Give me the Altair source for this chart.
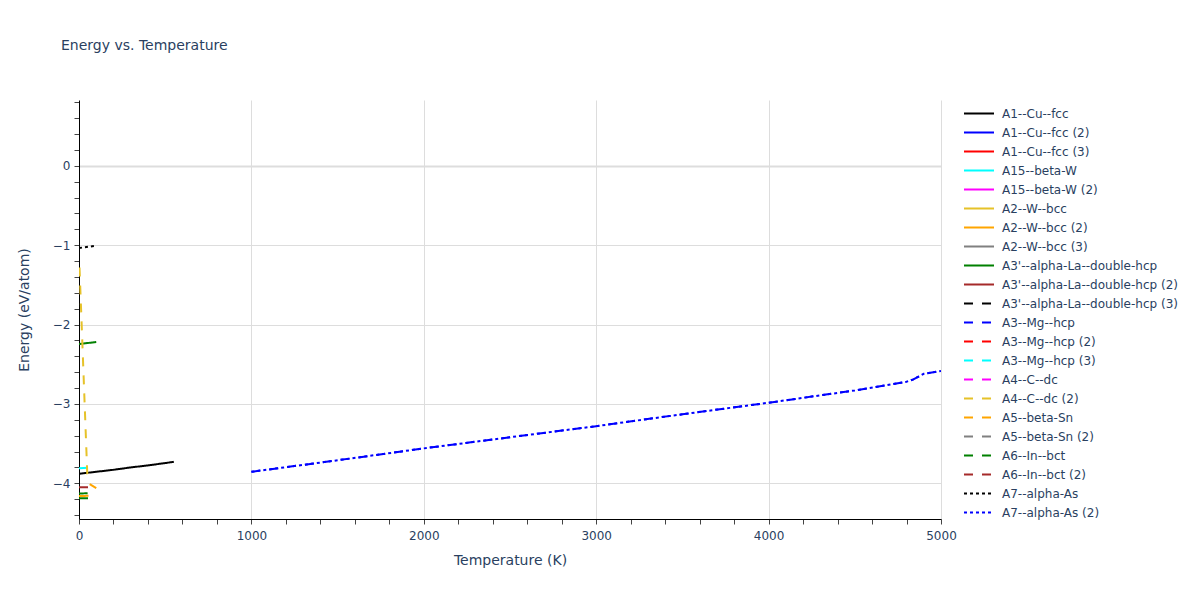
import altair as alt
import pandas as pd

# ---- legend / series definitions ----
series_names = [
    "A1--Cu--fcc", "A1--Cu--fcc (2)", "A1--Cu--fcc (3)",
    "A15--beta-W", "A15--beta-W (2)",
    "A2--W--bcc", "A2--W--bcc (2)", "A2--W--bcc (3)",
    "A3'--alpha-La--double-hcp", "A3'--alpha-La--double-hcp (2)", "A3'--alpha-La--double-hcp (3)",
    "A3--Mg--hcp", "A3--Mg--hcp (2)", "A3--Mg--hcp (3)",
    "A4--C--dc", "A4--C--dc (2)",
    "A5--beta-Sn", "A5--beta-Sn (2)",
    "A6--In--bct", "A6--In--bct (2)",
    "A7--alpha-As", "A7--alpha-As (2)",
]
series_colors = [
    "#000000", "#0000ff", "#ff0000", "#00ffff", "#ff00ff",
    "#e6c229", "#ffa500", "#808080", "#008000", "#a52a2a",
    "#000000", "#0000ff", "#ff0000", "#00ffff", "#ff00ff",
    "#e6c229", "#ffa500", "#808080", "#008000", "#a52a2a",
    "#000000", "#0000ff",
]
SOLID, DASH, DOT = [1, 0], [9, 9], [3, 3]
series_dashes = [SOLID] * 10 + [DASH] * 10 + [DOT] * 2

# ---- values ----
cu_fcc_T = [0, 100, 200, 300, 400, 500, 550]
cu_fcc_E = [-3.88, -3.855, -3.83, -3.80, -3.775, -3.745, -3.73]

w_bcc2_T = [0, 55]
w_bcc2_E = [-4.16, -4.158]

la_a_T = [0, 100]
la_a_E = [-2.245, -2.22]
la_b_T = [0, 50]
la_b_E = [-4.13, -4.125]

mg_hcp_T = [1000, 1500, 2000, 2500, 3000, 3500, 4000, 4500, 4800, 4840, 4900, 5000]
mg_hcp_E = [-3.855, -3.71, -3.56, -3.42, -3.28, -3.13, -2.985, -2.83, -2.72, -2.69, -2.62, -2.585]

mg_hcp3_T = [0, 90]
mg_hcp3_E = [-3.81, -3.80]

c_dc2_T = [3, 48, 55]
c_dc2_E = [-1.28, -3.88, -3.96]

sn_T = [62, 100]
sn_E = [-4.01, -4.06]

in_bct_T = [0, 90]
in_bct_E = [-4.19, -4.185]

in_bct2_T = [0, 60, 90]
in_bct2_E = [-4.05, -4.05, -4.03]

as_T = [0, 90]
as_E = [-1.035, -1.01]

as2_T = mg_hcp_T
as2_E = mg_hcp_E

parts = [
    ("A1--Cu--fcc", "a", cu_fcc_T, cu_fcc_E),
    ("A2--W--bcc (2)", "a", w_bcc2_T, w_bcc2_E),
    ("A3'--alpha-La--double-hcp", "a", la_a_T, la_a_E),
    ("A3'--alpha-La--double-hcp", "b", la_b_T, la_b_E),
    ("A3--Mg--hcp", "a", mg_hcp_T, mg_hcp_E),
    ("A3--Mg--hcp (3)", "a", mg_hcp3_T, mg_hcp3_E),
    ("A4--C--dc (2)", "a", c_dc2_T, c_dc2_E),
    ("A5--beta-Sn", "a", sn_T, sn_E),
    ("A6--In--bct", "a", in_bct_T, in_bct_E),
    ("A6--In--bct (2)", "a", in_bct2_T, in_bct2_E),
    ("A7--alpha-As", "a", as_T, as_E),
    ("A7--alpha-As (2)", "a", as2_T, as2_E),
]
rows = []
for name, p, ts, es in parts:
    for t, e in zip(ts, es):
        rows.append({"series": name, "part": name + "|" + p, "T": t, "E": e})
df = pd.DataFrame(rows)

x_ticks = list(range(0, 5001, 200))
y_ticks = [round(-4.4 + 0.2 * i, 1) for i in range(27)]

FONT = "DejaVu Sans"
TXT = "#2a3f5f"

legend = alt.Legend(
    title=None, orient="none", legendX=884, legendY=5,
    symbolType="stroke", symbolSize=900, symbolStrokeWidth=2,
    labelFont=FONT, labelFontSize=12, labelColor=TXT, labelOffset=7,
    clipHeight=17, rowPadding=2, padding=0, labelLimit=300,
)

chart = alt.Chart(df).mark_line(strokeWidth=2, clip=True).encode(
    x=alt.X("T:Q", title="Temperature (K)",
            scale=alt.Scale(domain=[0, 5000], nice=False, zero=False),
            axis=alt.Axis(
                values=x_ticks,
                labelExpr="datum.value % 1000 === 0 ? format(datum.value, 'd') : ''",
                gridColor={"condition": {"test": "datum.value % 1000 === 0 && datum.value > 0",
                                         "value": "#dddddd"},
                           "value": "rgba(0,0,0,0)"},
                labelFlush=False, labelOverlap=False,
                tickSize=5, tickColor="#444444", domainColor="#000000",
                labelPadding=6, titlePadding=12,
            )),
    y=alt.Y("E:Q", title="Energy (eV/atom)",
            scale=alt.Scale(domain=[-4.45, 0.83], nice=False, zero=False),
            axis=alt.Axis(
                values=y_ticks,
                labelExpr="abs(datum.value - round(datum.value)) < 0.001 ? format(round(datum.value), 'd') : ''",
                gridColor={"condition": {"test": "abs(datum.value - round(datum.value)) < 0.001 && datum.value > -4.3",
                                         "value": "#dddddd"},
                           "value": "rgba(0,0,0,0)"},
                gridWidth={"condition": {"test": "abs(datum.value) < 0.001", "value": 2},
                           "value": 1},
                labelOverlap=False,
                tickSize=5, tickColor="#444444", domainColor="#000000",
                labelPadding=4, titlePadding=21,
            )),
    color=alt.Color("series:N", scale=alt.Scale(domain=series_names, range=series_colors),
                    legend=legend, sort=series_names),
    strokeDash=alt.StrokeDash("series:N", scale=alt.Scale(domain=series_names, range=series_dashes),
                              legend=legend, sort=series_names),
    detail="part:N",
).properties(
    width=862, height=419,
    autosize=alt.AutoSizeParams(type="none"),
    padding={"left": 71, "top": 92, "right": 250, "bottom": 70},
    title=alt.TitleParams("Energy vs. Temperature", anchor="start", frame="group", fontSize=14,
                          font=FONT, color=TXT, fontWeight="normal", dx=-18, offset=43),
).configure_view(stroke=None).configure_axis(
    labelFont=FONT, labelFontSize=12, labelColor=TXT,
    titleFont=FONT, titleFontSize=14, titleColor=TXT, titleFontWeight="normal",
)

chart.save("out.html", embed_options={"renderer": "svg", "actions": False})
